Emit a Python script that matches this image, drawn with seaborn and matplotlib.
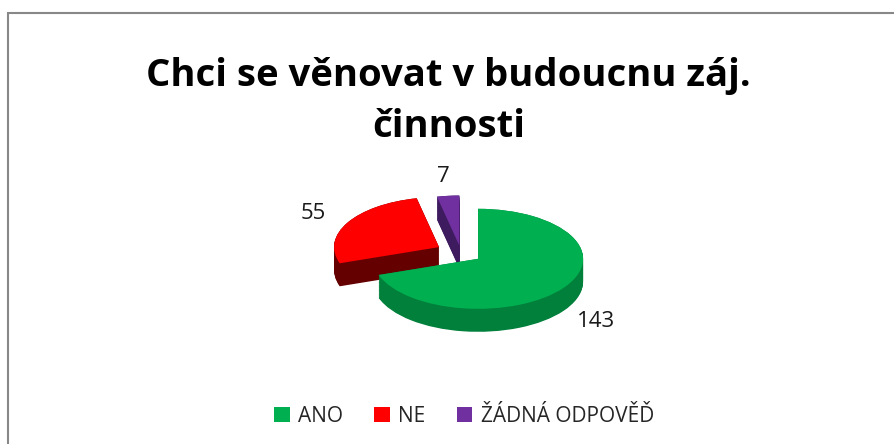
import numpy as np
import matplotlib
matplotlib.use("Agg")
import matplotlib.pyplot as plt
from matplotlib.patches import Patch, Rectangle
import seaborn as sns

# data
categories = ["ANO", "NE", "ŽÁDNÁ ODPOVĚĎ"]
counts = [143, 55, 7]
top_colors = ["#00B050", "#FF0000", "#7030A0"]
side_colors = ["#00803B", "#650000", "#3E1A5E"]
explode = [0.2, 0.24, 0.15]

title = "Chci se věnovat v budoucnu záj.\nčinnosti"

sns.set_style("white")
plt.rcParams["font.family"] = ["Open Sans", "DejaVu Sans"]

fig = plt.figure(figsize=(8.94, 4.44), dpi=100)
ax = fig.add_axes([0, 0, 1, 1])

# 3D look: stack darker pies downwards, then the top face
depth = 0.46
for dz in np.linspace(-depth, 0, 30):
    ax.pie(counts, colors=side_colors, explode=explode, startangle=90,
           counterclock=False, center=(0, dz), wedgeprops=dict(linewidth=0))
wedges, _ = ax.pie(counts, colors=top_colors, explode=explode, startangle=90,
                   counterclock=False, wedgeprops=dict(linewidth=0))

# value labels outside each slice
for w, val, ex in zip(wedges, counts, explode):
    ang = np.deg2rad((w.theta1 + w.theta2) / 2)
    r = 1.38 + ex
    x = r * np.cos(ang)
    y = r * np.sin(ang)
    if y < 0:
        y -= depth
    ax.text(x, y, str(val), ha="center", va="center", fontsize=16, color="#1a1a1a")

# squash the circle into an ellipse (105 px wide radius, 50 px tall)
ax.set_aspect("auto")
ax.set_xlim(-461 / 105, (894 - 461) / 105)
ax.set_ylim(-191 / 50, (444 - 191) / 50)
ax.axis("off")

fig.text(0.502, 0.772, title, ha="center", va="center", fontsize=27.5,
         fontweight="bold", linespacing=1.45, color="black")

handles = [Patch(facecolor=c, edgecolor="none") for c in top_colors]
fig.legend(handles, categories, loc="center", bbox_to_anchor=(0.519, 0.062),
           ncol=3, frameon=False, fontsize=15, handlelength=0.75,
           handleheight=0.75, handletextpad=0.4, columnspacing=1.5)

fig.patches.append(Rectangle((8 / 894, -0.05), 1.0, 1.05 - 13 / 444,
                             transform=fig.transFigure, fill=False,
                             edgecolor="#888888", linewidth=1.5))

fig.savefig("out.png", dpi=100)
